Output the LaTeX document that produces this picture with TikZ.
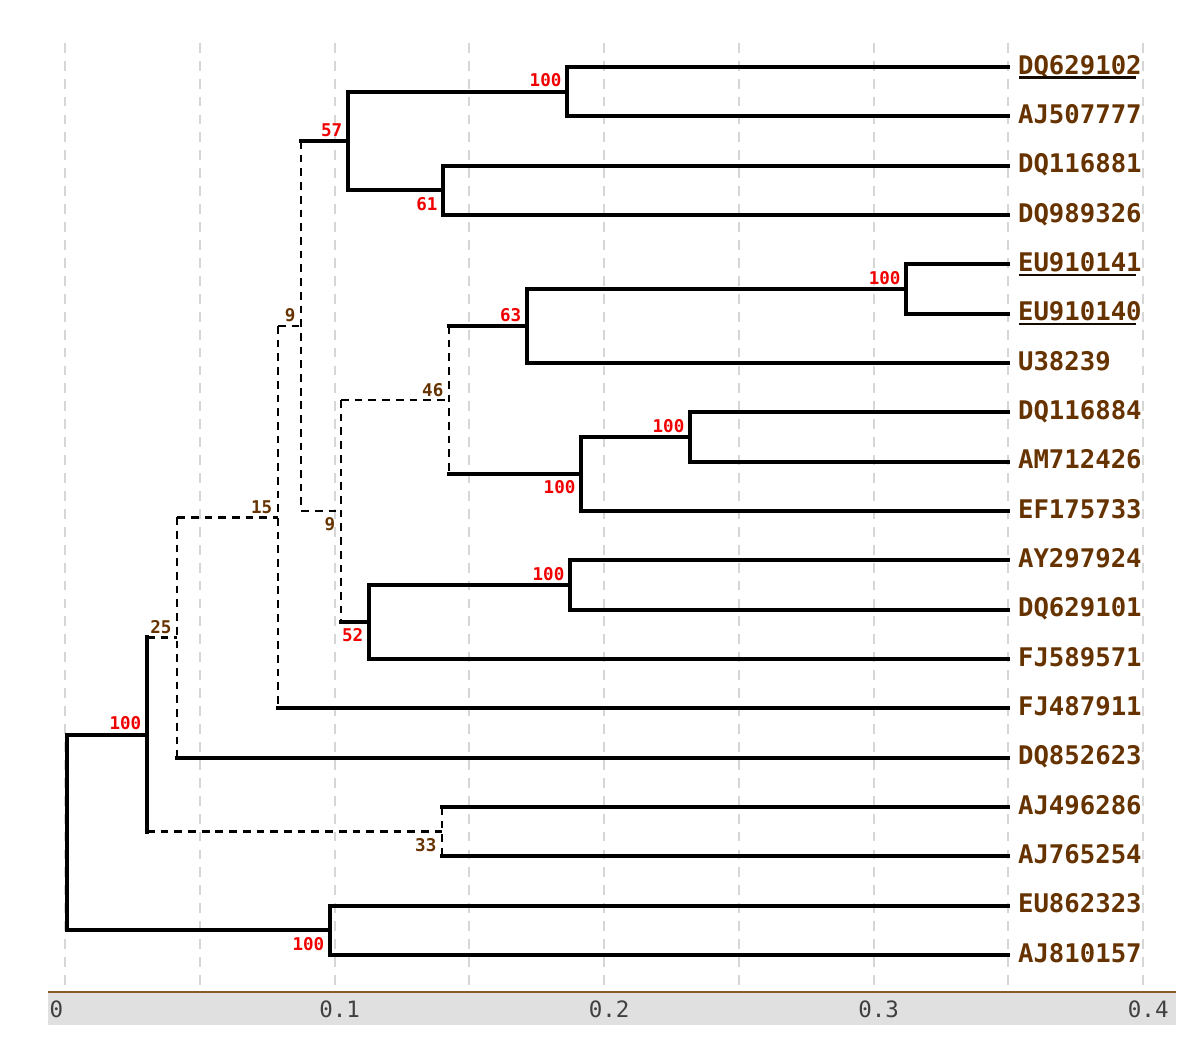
\documentclass[tikz,border=0pt]{standalone}
\usepackage{fontspec}
\setmonofont{DejaVu Sans Mono}
\usepackage{xcolor}
\usetikzlibrary{positioning, calc}

\definecolor{leafbrown}{RGB}{102,51,0}
\definecolor{bootred}{RGB}{240,0,0}
\definecolor{gridgray}{RGB}{214,214,214}
\definecolor{axisbrown}{RGB}{139,90,43}
\definecolor{bandgray}{RGB}{224,224,224}

\begin{document}
\begin{tikzpicture}[
  x=26.95cm, y=0.4933cm,
  font=\ttfamily,
  strong/.style={black, line width=1.15pt, line cap=rect},
  weak/.style={black, line width=0.75pt, dash pattern=on 2.2pt off 1.7pt},
  leaf/.style={anchor=base west, inner sep=0pt, text=leafbrown,
    font=\ttfamily\bfseries\fontsize{7.3}{8}\selectfont},
  bsup/.style={anchor=south east, inner sep=0pt,
    font=\ttfamily\bfseries\fontsize{5}{6}\selectfont},
  bsdn/.style={anchor=north east, inner sep=0pt,
    font=\ttfamily\bfseries\fontsize{5}{6}\selectfont},
  axlbl/.style={anchor=west, inner sep=0pt, text=black!75,
    font=\ttfamily\fontsize{6.4}{7}\selectfont},
]
\useasboundingbox (-0.02412,-20.03) rectangle (0.4211,1.358);

% ---- scale bar and grid ----
\fill[bandgray] (-0.0063,-18.75) rectangle (0.4122,-19.42);
\draw[axisbrown, line width=0.55pt] (-0.0063,-18.75) -- (0.4122,-18.75);
\foreach \g in {0,...,8}{
  \draw[gridgray, line width=0.55pt, dash pattern=on 2.8pt off 2.3pt]
    (\g*0.05,0.49) -- (\g*0.05,-18.67);
}
\foreach \v [count=\k from 0] in {0,0.1,0.2,0.3,0.4}{
  \node[axlbl, xshift=-1.6mm] (ax\k) at (\k*0.1,-19.10) {\v};
}

% ---- leaf tips (one row per sequence) ----
\foreach \i in {0,...,18}{
  \coordinate (t\i) at (0.35,-\i);
}

% ---- internal nodes (x = distance, y = mean of children) ----
\coordinate (nA) at (0.1863,-0.5);
\coordinate (nB) at (0.1403,-2.5);
\coordinate (nC) at (0.1050,-1.5);
\coordinate (nD) at (0.3121,-4.5);
\coordinate (nE) at (0.1714,-5.25);
\coordinate (nF) at (0.2319,-7.5);
\coordinate (nG) at (0.1915,-8.25);
\coordinate (nH) at (0.1425,-6.75);
\coordinate (nI) at (0.1874,-10.5);
\coordinate (nJ) at (0.1128,-11.25);
\coordinate (nK) at (0.1024,-9);
\coordinate (nL) at (0.0876,-5.25);
\coordinate (nM) at (0.0790,-9.125);
\coordinate (nN) at (0.0416,-11.5625);
\coordinate (nO) at (0.1399,-15.5);
\coordinate (nP) at (0.0304,-13.53);
\coordinate (nQ) at (0.0983,-17.5);
\coordinate (nR) at (0.0007,-15.52);

% ---- weak branches (dashed) ----
\foreach \kid/\mom in {nN/nP, nO/nP, nM/nN, nL/nM, nK/nL, nH/nK}{
  \draw[weak] (\mom |- \kid) -- (\kid);
}
\foreach \n/\top/\bot in {nN/nM/t14, nM/nL/t13, nL/nC/nK, nK/nH/nJ, nH/nE/nG, nO/t15/t16}{
  \draw[weak] (\n |- \top) -- (\n |- \bot);
}

% ---- supported branches ----
\foreach \kid/\mom in {nP/nR, nQ/nR, t14/nN, t13/nM, nC/nL, nA/nC, nB/nC,
    t0/nA, t1/nA, t2/nB, t3/nB, nJ/nK, nE/nH, nG/nH, nD/nE, t6/nE,
    t4/nD, t5/nD, nF/nG, t9/nG, t7/nF, t8/nF, nI/nJ, t12/nJ,
    t10/nI, t11/nI, t15/nO, t16/nO, t17/nQ, t18/nQ}{
  \draw[strong] (\mom |- \kid) -- (\kid);
}
\foreach \n/\top/\bot in {nR/nP/nQ, nP/nN/nO, nC/nA/nB, nA/t0/t1, nB/t2/t3,
    nE/nD/t6, nD/t4/t5, nG/nF/t9, nF/t7/t8, nJ/nI/t12, nI/t10/t11, nQ/t17/t18}{
  \draw[strong] (\n |- \top) -- (\n |- \bot);
}

% ---- bootstrap values ----
\foreach \n/\v in {nC/57, nA/100, nD/100, nE/63, nF/100, nI/100, nP/100}{
  \node[bsup, text=bootred] (s\n) at ([xshift=-0.5mm, yshift=0.4mm]\n) {\v};
}
\foreach \n/\v in {nH/46, nL/9, nM/15, nN/25}{
  \node[bsup, text=leafbrown] (s\n) at ([xshift=-0.5mm, yshift=0.3mm]\n) {\v};
}
\foreach \n/\v in {nB/61, nG/100, nJ/52, nQ/100}{
  \node[bsdn, text=bootred] (s\n) at ([xshift=-0.5mm, yshift=-0.6mm]\n) {\v};
}
\foreach \n/\v in {nK/9, nO/33}{
  \node[bsdn, text=leafbrown] (s\n) at ([xshift=-0.5mm, yshift=-0.6mm]\n) {\v};
}

% ---- sequence names ----
\foreach \name [count=\i from 0] in {DQ629102, AJ507777, DQ116881, DQ989326,
    EU910141, EU910140, U38239, DQ116884, AM712426, EF175733, AY297924,
    DQ629101, FJ589571, FJ487911, DQ852623, AJ496286, AJ765254, EU862323,
    AJ810157}{
  \node[leaf] (L\i) at ([xshift=0.9mm, yshift=-0.7mm]t\i) {\name};
}
\foreach \i in {0,4,5}{
  \draw[black!80!leafbrown, line width=0.6pt]
    ([xshift=0.2mm, yshift=-0.35mm]L\i.base west) -- ([xshift=-0.6mm, yshift=-0.35mm]L\i.base east);
}

\end{tikzpicture}
\end{document}
